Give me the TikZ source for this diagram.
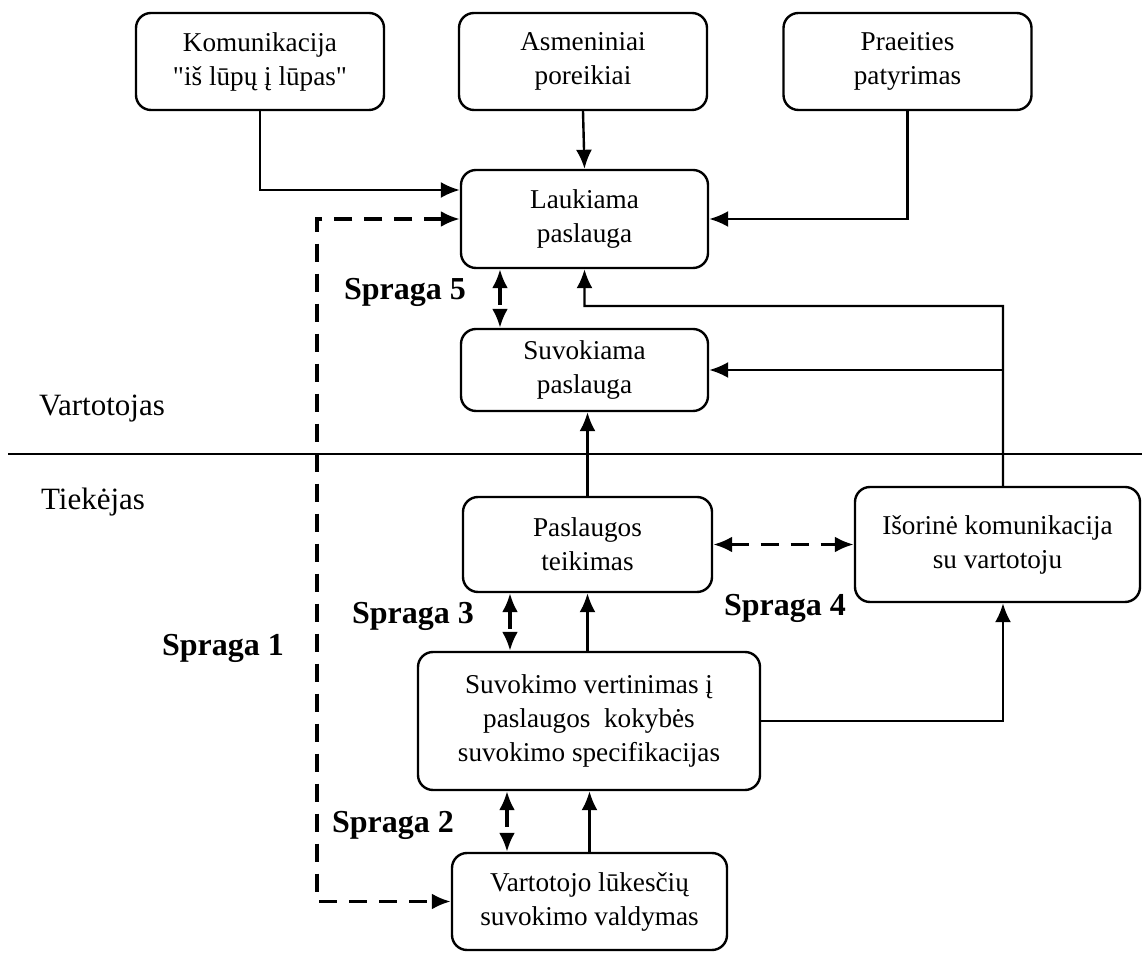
\documentclass[tikz,border=0pt]{standalone}
\usepackage{fontspec}
\setmainfont{Liberation Serif}[Ligatures=TeXOff]
\usepackage{tikz}
\usetikzlibrary{arrows.meta,positioning,calc}

\tikzset{
  blok/.style={draw, rounded corners=7.5bp, align=center, inner sep=1bp,
    minimum width=124bp, minimum height=48.5bp,
    font=\fontsize{13.6bp}{17bp}\selectfont},
  gap/.style={line width=1.6bp, dash pattern=on 9bp off 6bp},
  spraga/.style={font=\fontsize{16bp}{19bp}\selectfont\bfseries},
  puse/.style={font=\fontsize{15.5bp}{18bp}\selectfont},
}

\begin{document}
\begin{tikzpicture}[>={Latex[length=9.5bp,width=8bp]},line join=miter]
\pgfsetlinewidth{1.2bp}
\useasboundingbox (0bp,0bp) rectangle (571bp,478bp);
% vartotojo puse
\node[blok] (kom) at (130bp,447.25bp) {Komunikacija\\"iš lūpų į lūpas"};
\node[blok] (asm) at (291.5bp,447.25bp) {Asmeniniai\\poreikiai};
\node[blok] (pra) at (453.75bp,447.25bp) {Praeities\\patyrimas};
\node[blok, minimum width=123.5bp, minimum height=49bp] (lauk) at (292.25bp,368.5bp) {Laukiama\\paslauga};
\node[blok, minimum width=123.5bp, minimum height=41bp] (suvk) at (292.25bp,293bp) {Suvokiama\\paslauga};
% tiekejo puse
\node[blok, minimum width=124.5bp, minimum height=47.5bp] (pasl) at (293.75bp,205.75bp) {Paslaugos\\teikimas};
\node[blok, minimum width=142.5bp, minimum height=57.5bp] (isor) at (498.75bp,205.75bp) {Išorinė komunikacija\\su vartotoju};
\node[blok, minimum width=171bp, minimum height=69bp] (suvv) at (294.5bp,117.5bp) {Suvokimo vertinimas į\\paslaugos\ \ kokybės\\suvokimo specifikacijas};
\node[blok, minimum width=137.5bp, minimum height=48.5bp] (vart) at (294.75bp,27.25bp) {Vartotojo lūkesčių\\suvokimo valdymas};

\node[puse] (vlab) at (51bp,273.5bp) {Vartotojas};
\node[puse] (tlab) at (46.5bp,227bp) {Tiekėjas};
\coordinate (riba1) at (4bp,251bp);
\coordinate (riba2) at (571bp,251bp);
\draw (riba1) -- (riba2);

\node[spraga] (sp5) at (202.5bp,332bp) {Spraga 5};
\node[spraga] (sp3) at (206.5bp,170bp) {Spraga 3};
\node[spraga] (sp1) at (111.5bp,154bp) {Spraga 1};
\node[spraga] (sp4) at (392.5bp,174bp) {Spraga 4};
\node[spraga] (sp2) at (196.5bp,65.5bp) {Spraga 2};

\coordinate (gapx) at (158.5bp,0bp);
\coordinate (turn) at (501.5bp,325bp);

% rodykles
\draw[->] (kom.south) |- ([yshift=14.5bp]lauk.west);
\draw[->] (asm.south) -- (lauk.north);
\draw[->] (pra.south) |- (lauk.east);
\draw[->] ([xshift=2.75bp]isor.north) -- (turn) -| (lauk.south);
\draw[->] (turn |- suvk.east) -- (suvk.east);
\draw[->] (pasl.north) -- (pasl.north |- suvk.south);
\draw[->] (pasl.south |- suvv.north) -- (pasl.south);
\draw[->] (suvv.east) -| ([xshift=2.75bp]isor.south);
\draw[->] (vart.north) -- (vart.north |- suvv.south);
% spragos
\draw[gap,<->] (lauk.west) -- (lauk.west -| gapx) |- (vart.west);
\draw[gap,<->] ([xshift=-42.25bp]lauk.south) -- ([xshift=-42.25bp]suvk.north);
\draw[gap,<->] (pasl.east) -- (isor.west);
\draw[gap,<->] ([xshift=-38.75bp]pasl.south) -- ([xshift=-38.75bp]pasl.south |- suvv.north);
\draw[gap,<->] ([xshift=-41bp]suvv.south) -- ([xshift=-41bp]suvv.south |- vart.north);
\end{tikzpicture}
\end{document}
